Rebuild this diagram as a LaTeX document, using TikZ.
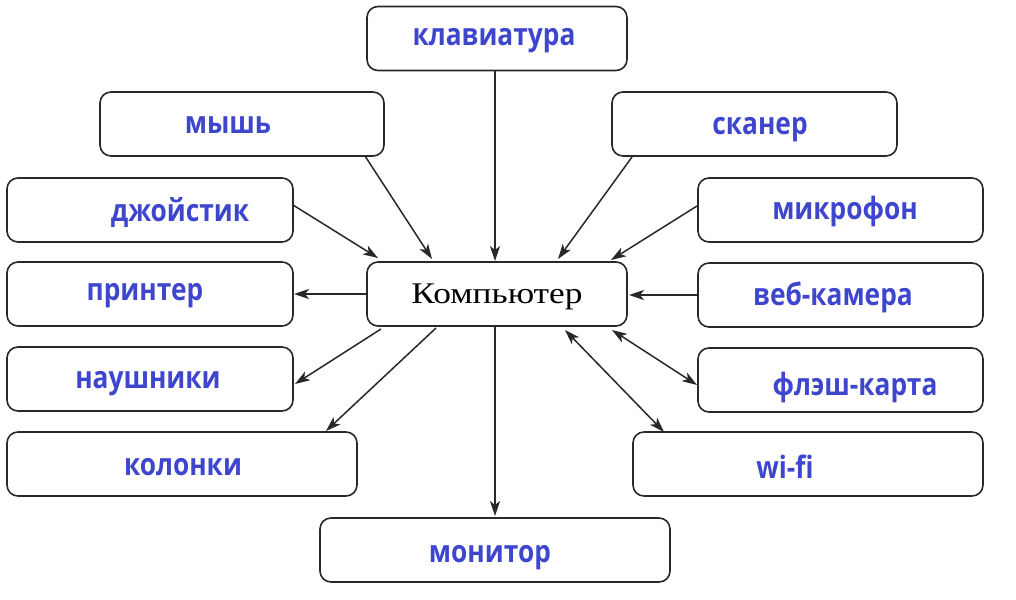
\documentclass[tikz,border=0pt]{standalone}
\usepackage{fontspec}
\setmainfont{Liberation Serif}
\newfontfamily\lblfont{Open Sans}
\usetikzlibrary{arrows.meta}
\definecolor{lblblue}{RGB}{62,70,205}
\definecolor{lineclr}{RGB}{40,40,40}
\newcommand\tallbox[1]{\scalebox{1}[1.17]{#1}}
\newcommand\widebox[1]{\scalebox{1.18}[1]{#1}}
\tikzset{
  devbox/.style={draw=lineclr, line width=1.6pt, rounded corners=11pt, minimum height=64pt, inner sep=0pt},
  lbl/.style={font=\lblfont\bfseries\fontsize{26.3}{26.3}\selectfont, text=lblblue, anchor=base, inner sep=0pt},
  tip/.tip={Stealth[length=15pt,width=10pt,inset=4pt]},
  conn/.style={draw=lineclr, line width=1.5pt, -tip},
  bconn/.style={draw=lineclr, line width=1.5pt, tip-tip}
}
\begin{document}
\begin{tikzpicture}[x=1pt,y=-1pt]
\useasboundingbox (0,0) rectangle (1016,599);
\fill[white] (0,0) rectangle (1016,599);
% boxes
\node[devbox, minimum width=260pt] (kb) at (497,38.5) {};
\node[devbox, minimum width=284pt] (ms) at (242,124) {};
\node[devbox, minimum width=285pt] (sc) at (754.5,124) {};
\node[devbox, minimum width=286pt] (js) at (150,210) {};
\node[devbox, minimum width=285pt] (mic) at (840.5,210) {};
\node[devbox, minimum width=286pt] (pr) at (150,294) {};
\node[devbox, minimum width=260pt] (pc) at (497,294) {};
\node[devbox, minimum width=285pt] (cam) at (840.5,295) {};
\node[devbox, minimum width=286pt] (hp) at (150,379) {};
\node[devbox, minimum width=285pt] (fl) at (840.5,380) {};
\node[devbox, minimum width=350pt] (sp) at (182,464) {};
\node[devbox, minimum width=350pt] (wf) at (808,464) {};
\node[devbox, minimum width=350pt] (mon) at (495,550) {};
% labels
\node[anchor=base, inner sep=0pt, font=\fontsize{30}{30}\selectfont] (tpc) at (497,303) {\widebox{Компьютер}};
\node[lbl] (tkb) at (494,46) {\tallbox{клавиатура}};
\node[lbl] (tms) at (228,133) {\tallbox{мышь}};
\node[lbl] (tsc) at (760,135) {\tallbox{сканер}};
\node[lbl] (tjs) at (180,221) {\tallbox{джойстик}};
\node[lbl] (tmic) at (845,219) {\tallbox{микрофон}};
\node[lbl] (tpr) at (145,300) {\tallbox{принтер}};
\node[lbl] (tcam) at (833,305) {\tallbox{веб-камера}};
\node[lbl] (thp) at (148,388) {\tallbox{наушники}};
\node[lbl] (tfl) at (855,395) {\tallbox{флэш-карта}};
\node[lbl] (tsp) at (183,475) {\tallbox{колонки}};
\node[lbl] (twf) at (785,478) {\tallbox{wi-fi}};
\node[lbl] (tmon) at (490,562) {\tallbox{монитор}};
% connector endpoints
\coordinate (kbA) at (495,70);   \coordinate (kbB) at (495,261);
\coordinate (msA) at (365,156);  \coordinate (msB) at (432,259);
\coordinate (scA) at (632,157);  \coordinate (scB) at (558,259);
\coordinate (jsA) at (293,205);  \coordinate (jsB) at (378,258);
\coordinate (micA) at (697,206); \coordinate (micB) at (611,260);
\coordinate (prA) at (366,294);  \coordinate (prB) at (294,294);
\coordinate (camA) at (698,295); \coordinate (camB) at (629,295);
\coordinate (hpA) at (381,329);  \coordinate (hpB) at (295,384);
\coordinate (spA) at (436,328);  \coordinate (spB) at (326,431);
\coordinate (monA) at (495,327); \coordinate (monB) at (495,516);
\coordinate (flA) at (612,330);  \coordinate (flB) at (697,385);
\coordinate (wfA) at (565,330);  \coordinate (wfB) at (664,432);
\draw[conn] (kbA) -- (kbB);
\draw[conn] (msA) -- (msB);
\draw[conn] (scA) -- (scB);
\draw[conn] (jsA) -- (jsB);
\draw[conn] (micA) -- (micB);
\draw[conn] (prA) -- (prB);
\draw[conn] (camA) -- (camB);
\draw[conn] (hpA) -- (hpB);
\draw[conn] (spA) -- (spB);
\draw[conn] (monA) -- (monB);
\draw[bconn] (flA) -- (flB);
\draw[bconn] (wfA) -- (wfB);
\end{tikzpicture}
\end{document}
